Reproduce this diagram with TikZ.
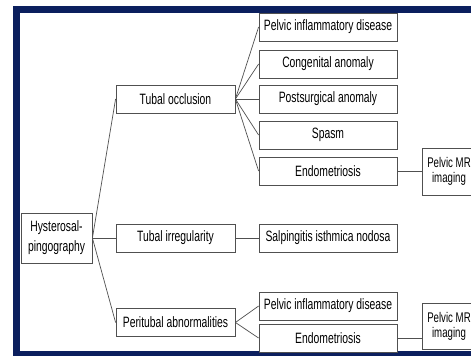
\documentclass[tikz,border=0pt]{standalone}
\usepackage{fontspec}
\setmainfont[FakeStretch=0.69]{Liberation Sans}
\definecolor{framenavy}{HTML}{0B1F5E}
\definecolor{boxgray}{HTML}{505050}
\tikzset{
    box/.style={draw=boxgray, line width=0.8pt, fill=white, inner sep=1pt, align=center,
        font=\fontsize{15}{20}\selectfont},
    leftbox/.style={box, minimum width=119pt, minimum height=28pt},
    rightbox/.style={box, minimum width=138pt, minimum height=28pt},
    mrbox/.style={box, minimum width=52pt, font=\fontsize{14}{15}\selectfont},
    link/.style={draw=boxgray, line width=0.7pt}
}
\begin{document}
\begin{tikzpicture}[x=1pt,y=-1pt]
    \clip (0,0) rectangle (471,356);
    \fill[white] (0,0) rectangle (471,356);
    \fill[framenavy] (13,6) rectangle (480,356);
    \fill[white] (20,13) rectangle (480,351);

    \node[box, minimum width=71pt, minimum height=50pt] (hsg) at (56.5,238) {Hysterosal-\\pingography};

    \node[leftbox] (occl) at (175.5,99) {Tubal occlusion};
    \node[leftbox] (irreg) at (175.5,238) {Tubal irregularity};
    \node[leftbox] (peri) at (175.5,322.5) {Peritubal abnormalities};

    \node[rightbox] (pid) at (328,27) {Pelvic inflammatory disease};
    \node[rightbox] (cong) at (328,64) {Congenital anomaly};
    \node[rightbox] (postsurg) at (328,99) {Postsurgical anomaly};
    \node[rightbox] (spasm) at (328,135) {Spasm};
    \node[rightbox] (endo) at (328,171) {Endometriosis};
    \node[rightbox] (sin) at (328,238) {Salpingitis isthmica nodosa};
    \node[rightbox] (pidb) at (328,306) {Pelvic inflammatory disease};
    \node[rightbox] (endob) at (328,338) {Endometriosis};

    \node[mrbox, minimum width=54pt, minimum height=47pt] (mra) at (449,171.5) {Pelvic MR\\imaging};
    \node[mrbox, minimum width=54pt, minimum height=46pt] (mrb) at (449,326) {Pelvic MR\\imaging};

    % hysterosalpingography findings
    \draw[link] (hsg.east) -- (occl.west);
    \draw[link] (hsg.east) -- (irreg.west);
    \draw[link] (hsg.east) -- (peri.west);

    % causes
    \draw[link] (occl.east) -- (pid.west);
    \draw[link] (occl.east) -- (cong.west);
    \draw[link] (occl.east) -- (postsurg.west);
    \draw[link] (occl.east) -- (spasm.west);
    \draw[link] (occl.east) -- (endo.west);
    \draw[link] (irreg.east) -- (sin.west);
    \draw[link] (peri.east) -- (pidb.west);
    \draw[link] (peri.east) -- (endob.west);

    % further imaging
    \draw[link] (endo.east) -- (endo.east -| mra.west);
    \draw[link] (endob.east) -- (endob.east -| mrb.west);
\end{tikzpicture}
\end{document}
